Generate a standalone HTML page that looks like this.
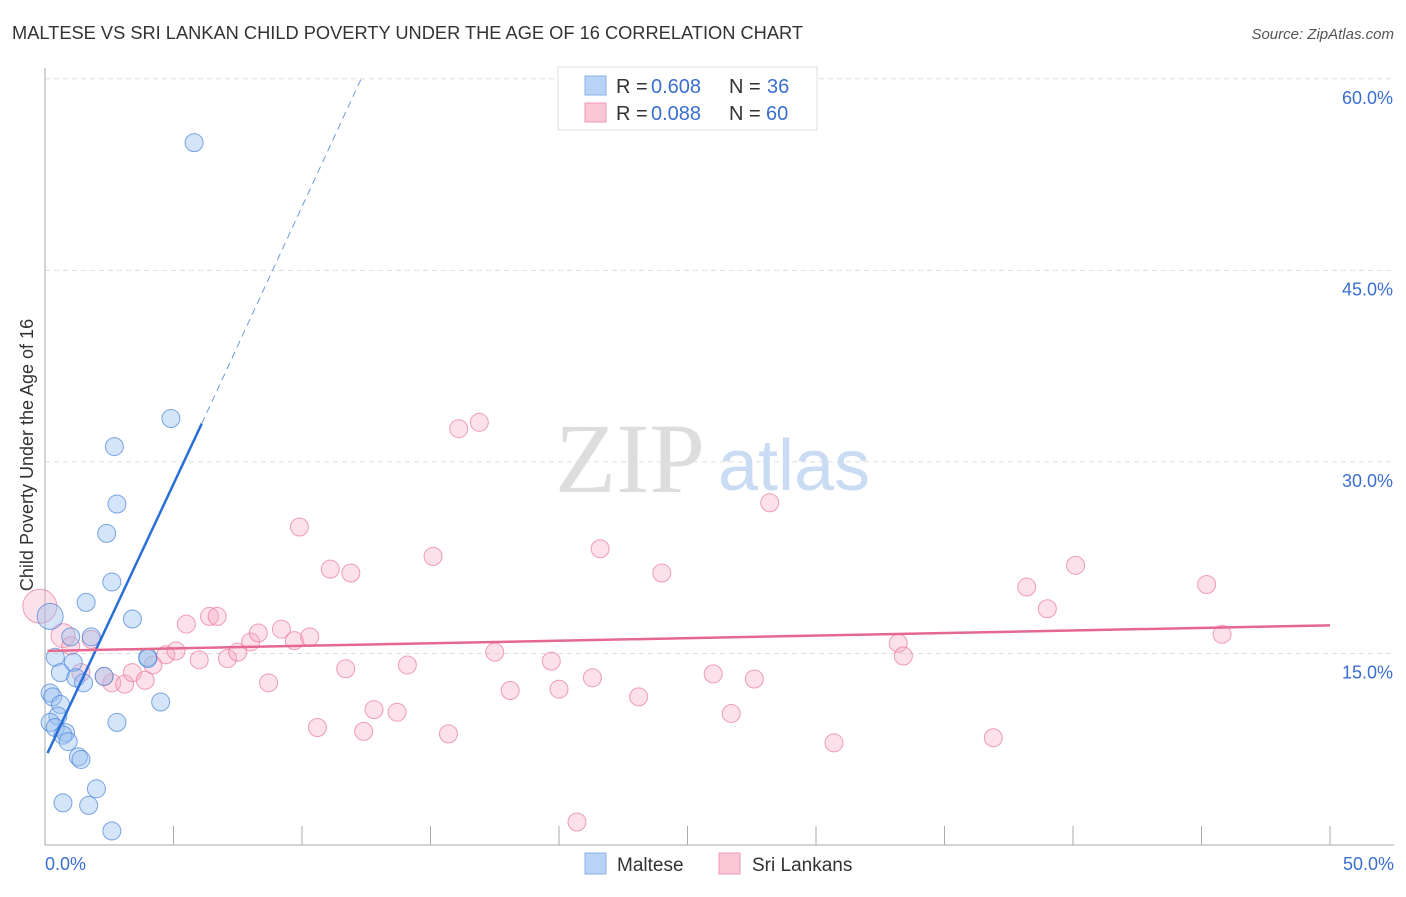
<!DOCTYPE html>
<html><head><meta charset="utf-8"><style>
body{margin:0;background:#fff;font-family:"Liberation Sans",sans-serif}
</style></head><body>
<svg id="c" width="1406" height="892" xmlns="http://www.w3.org/2000/svg" font-family="Liberation Sans, sans-serif">
<text x="12" y="39" font-size="18" fill="#333" textLength="791" lengthAdjust="spacingAndGlyphs">MALTESE VS SRI LANKAN CHILD POVERTY UNDER THE AGE OF 16 CORRELATION CHART</text>
<text x="1394" y="39" font-size="15" fill="#555" font-style="italic" text-anchor="end">Source: ZipAtlas.com</text>
<text transform="translate(33,455) rotate(-90)" font-size="18" fill="#333" text-anchor="middle">Child Poverty Under the Age of 16</text>
<g id="grid"></g>
<text x="555" y="492" font-size="100" fill="#ddd" font-family="Liberation Serif, serif">ZIP</text>
<text x="718" y="490" font-size="72" fill="#c9dcf3">atlas</text>
<g id="pts"></g>
<g id="trend"></g>
<g>
<rect x="558" y="67" width="259" height="63" fill="#fff" stroke="#ddd"/>
<rect x="585" y="76" width="21" height="19" fill="#b8d3f5" stroke="#8ab2e6"/>
<rect x="585" y="103" width="21" height="19" fill="#f9c6d5" stroke="#ef9ab4"/>
<text x="616" y="93" font-size="20" fill="#333">R =</text>
<text x="651" y="93" font-size="20" fill="#3a6fd0">0.608</text>
<text x="729" y="93" font-size="20" fill="#333">N =</text>
<text x="767" y="93" font-size="20" fill="#3a6fd0">36</text>
<text x="616" y="120" font-size="20" fill="#333">R =</text>
<text x="651" y="120" font-size="20" fill="#3a6fd0">0.088</text>
<text x="729" y="120" font-size="20" fill="#333">N =</text>
<text x="766" y="120" font-size="20" fill="#3a6fd0">60</text>
</g>
<g>
<rect x="585" y="853" width="21" height="21" fill="#b8d3f5" stroke="#8ab2e6"/>
<text x="617" y="871" font-size="19" fill="#333">Maltese</text>
<rect x="719" y="853" width="21" height="21" fill="#f9c6d5" stroke="#ef9ab4"/>
<text x="752" y="871" font-size="19" fill="#333">Sri Lankans</text>
</g>
</svg>
<script>
const yTicks=[15,30,45,60];
const yTickLabels=["15.0%","30.0%","45.0%","60.0%"];
const xTickLabels=["0.0%","50.0%"];
const malteseX=[5.8,4.9,2.7,2.8,2.4,2.6,1.6,3.4,0.2,1.0,1.8,0.4,1.1,0.6,1.2,2.3,1.5,4.0,4.5,0.2,0.3,0.6,0.5,0.2,0.4,0.8,0.7,0.9,1.3,1.4,2.0,0.7,1.7,2.6,2.8,4.0];
const malteseY=[55.0,33.4,31.2,26.7,24.4,20.6,19.0,17.7,17.9,16.3,16.3,14.7,14.3,13.5,13.1,13.2,12.7,14.7,11.2,11.9,11.6,11.0,10.1,9.6,9.2,8.8,8.6,8.1,6.9,6.7,4.4,3.3,3.1,1.1,9.6,14.6];
const malteseR=[9,9,9,9,9,9,9,9,13,9,9,9,9,9,9,9,9,9,9,9,9,9,9,9,9,9,9,9,9,9,9,9,9,9,9,9];
const sriX=[-0.2,0.7,1.0,1.8,1.4,2.6,3.1,2.3,3.4,3.9,4.2,4.7,5.1,5.5,6.0,6.4,6.7,7.1,7.5,8.0,8.3,8.7,9.2,9.7,10.3,9.9,10.6,11.1,11.7,11.9,12.4,12.8,13.7,14.1,15.1,15.7,16.1,16.9,17.5,18.1,19.7,20.0,20.7,21.3,21.6,23.1,24.0,26.0,26.7,27.6,28.2,30.7,33.2,33.4,36.9,38.2,39.0,40.1,45.2,45.8];
const sriY=[18.7,16.4,15.6,16.1,13.5,12.7,12.6,13.2,13.5,12.9,14.1,14.9,15.2,17.3,14.5,17.9,17.9,14.6,15.1,15.9,16.6,12.7,16.9,16.0,16.3,24.9,9.2,21.6,13.8,21.3,8.9,10.6,10.4,14.1,22.6,8.7,32.6,33.1,15.1,12.1,14.4,12.2,1.8,13.1,23.2,11.6,21.3,13.4,10.3,13.0,26.8,8.0,15.8,14.8,8.4,20.2,18.5,21.9,20.4,16.5];
const sriR=[17,12,9,9,9,9,9,9,9,9,9,9,9,9,9,9,9,9,9,9,9,9,9,9,9,9,9,9,9,9,9,9,9,9,9,9,9,9,9,9,9,9,9,9,9,9,9,9,9,9,9,9,9,9,9,9,9,9,9,9];
const blueTrend=[[0.1,7.2],[6.1,33.0]];
const blueDash=[[6.1,33.0],[12.3,60.0]];
const pinkTrend=[[0.1,15.2],[50,17.2]];
const NS="http://www.w3.org/2000/svg";
const X=v=>45+v*25.7, Y=v=>845-v*12.77;
function mk(t,a,p){const e=document.createElementNS(NS,t);for(const k in a)e.setAttribute(k,a[k]);p.appendChild(e);return e;}
const grid=document.getElementById('grid'),svg=document.getElementById('c');
yTicks.forEach((t,i)=>{
 const l=mk('line',{x1:45,x2:1394,y1:Y(t),y2:Y(t),stroke:'#ddd','stroke-dasharray':'5,4'},grid);
 
 
 const tx=mk('text',{x:1393,y:Y(t)+25,'font-size':18,fill:'#3a6fd0','text-anchor':'end'},svg);
 tx.textContent=yTickLabels[i];
 
 
});
let ax=mk('line',{x1:45,x2:45,y1:68,y2:845,stroke:'#aaa'},grid);


ax=mk('line',{x1:45,x2:1394,y1:845,y2:845,stroke:'#aaa'},grid);


for(let i=1;i<=10;i++){const tk=mk('line',{x1:X(i*5),x2:X(i*5),y1:826,y2:845,stroke:'#aaa'},grid);
 
 }
[[0,'start',45],[50,'end',1394]].forEach((d,i)=>{const tx=mk('text',{x:d[2],y:870,'font-size':18,fill:'#3a6fd0','text-anchor':d[1]},svg);tx.textContent=xTickLabels[i];
 
 });
const pts=document.getElementById('pts');
sriX.forEach((x,i)=>{const c=mk('circle',{cx:X(x),cy:Y(sriY[i]),r:sriR[i],fill:'rgba(246,170,195,0.35)',stroke:'rgba(232,120,155,0.7)'},pts);
 
 });
malteseX.forEach((x,i)=>{const c=mk('circle',{cx:X(x),cy:Y(malteseY[i]),r:malteseR[i],fill:'rgba(150,190,240,0.4)',stroke:'rgba(70,130,215,0.7)'},pts);
 
 });
const tr=document.getElementById('trend');
let l=mk('line',{x1:X(blueTrend[0][0]),y1:Y(blueTrend[0][1]),x2:X(blueTrend[1][0]),y2:Y(blueTrend[1][1]),stroke:'#2a6fd6','stroke-width':2.5},tr);


l=mk('line',{x1:X(blueDash[0][0]),y1:Y(blueDash[0][1]),x2:X(blueDash[1][0]),y2:Y(blueDash[1][1]),stroke:'#6a9be0','stroke-width':1,'stroke-dasharray':'7,5'},tr);


l=mk('line',{x1:X(pinkTrend[0][0]),y1:Y(pinkTrend[0][1]),x2:X(pinkTrend[1][0]),y2:Y(pinkTrend[1][1]),stroke:'#e5698f','stroke-width':2.5},tr);


</script>
</body></html>
